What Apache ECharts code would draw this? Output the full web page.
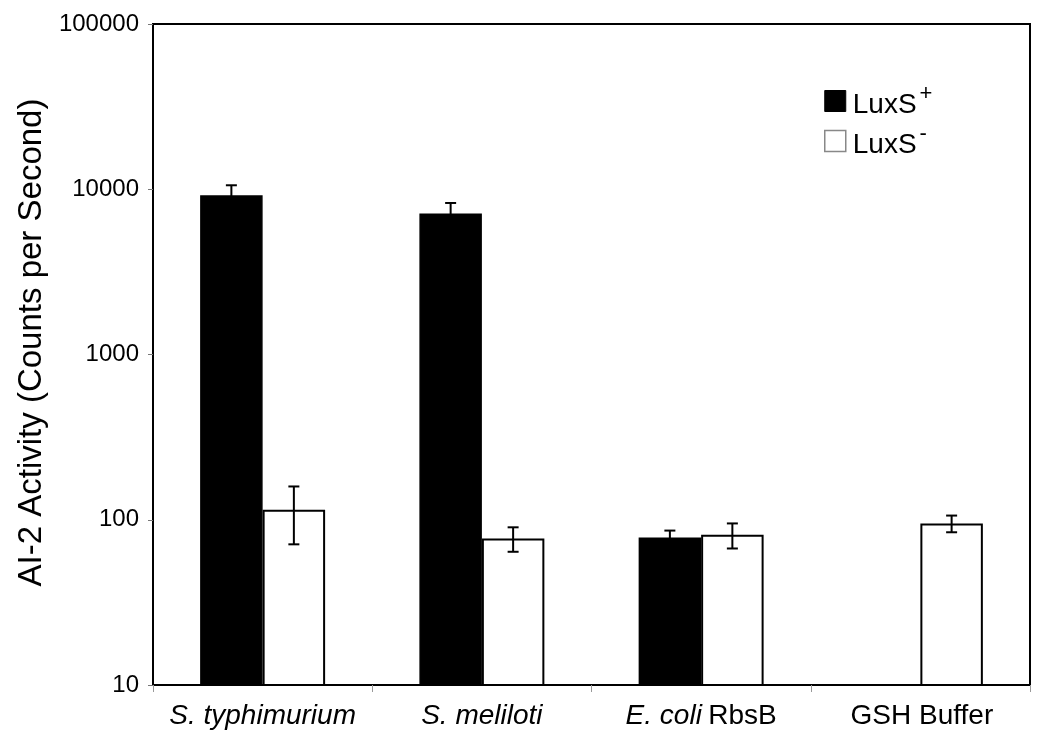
<!DOCTYPE html>
<html>
<head>
<meta charset="utf-8">
<script src="https://cdn.jsdelivr.net/npm/echarts@6/dist/echarts.min.js"></script>
<style>
  html, body { margin: 0; padding: 0; background: #fff; }
  #chart { width: 1050px; height: 741px; }
</style>
</head>
<body>
<div id="chart"></div>
<script>
// categories and values
var categories = ["S. typhimurium", "S. meliloti", "E. coli RbsB", "GSH Buffer"];
var luxPlus = [9200, 7130, 78, null];
var luxPlusErr = [1370, 1130, 8, null];
var luxMinus = [115, 77, 81, 95];
var luxMinusErr = [44, 13, 14, 11];
var yTicks = [10, 100, 1000, 10000, 100000];

var gapPct = 43; // barCategoryGap in %

function errData(vals, errs) {
  var out = [];
  vals.forEach(function(v, i) {
    if (v == null) return;
    out.push([i, v - errs[i], v + errs[i]]);
  });
  return out;
}

function errorRender(side) {
  return function(params, api) {
    var xi = api.value(0), lo = api.value(1), hi = api.value(2);
    var band = api.coord([1, 100])[0] - api.coord([0, 100])[0];
    var bw = band * (1 - gapPct / 100) / 2;
    var cx = api.coord([xi, hi])[0] + side * bw / 2;
    var yHi = api.coord([xi, hi])[1];
    var yLo = api.coord([xi, lo])[1];
    var cap = 5.5;
    var st = { stroke: "#000", lineWidth: 2 };
    return {
      type: "group",
      children: [
        { type: "line", shape: { x1: cx, y1: yHi, x2: cx, y2: yLo }, style: st },
        { type: "line", shape: { x1: cx - cap, y1: yHi, x2: cx + cap, y2: yHi }, style: st },
        { type: "line", shape: { x1: cx - cap, y1: yLo, x2: cx + cap, y2: yLo }, style: st }
      ]
    };
  };
}

// category labels, italic species part
function catLabel(v) {
  if (v === "E. coli RbsB") return "{i|E. coli} {n|RbsB}";
  if (v === "GSH Buffer") return "{n|GSH Buffer}";
  return "{i|" + v + "}";
}

var myChart = echarts.init(document.getElementById("chart"));
myChart.setOption({
  animation: false,
  backgroundColor: "#fff",
  textStyle: { fontFamily: "Liberation Sans, Arial, sans-serif", color: "#000" },
  grid: {
    left: 153,
    right: 20,
    top: 24,
    bottom: 56,
    show: true,
    borderColor: "#000",
    borderWidth: 2
  },
  legend: {
    orient: "vertical",
    left: 819,
    top: 78,
    itemWidth: 21,
    itemHeight: 21,
    itemGap: 4,
    icon: "rect",
    data: [
      { name: "LuxS+", itemStyle: { color: "#000", borderColor: "#000", borderWidth: 1 } },
      { name: "LuxS-", itemStyle: { color: "#fff", borderColor: "#888", borderWidth: 1.5 } }
    ],
    formatter: function(name) {
      return "{b|LuxS}{s|" + (name === "LuxS+" ? "+" : "-") + "}";
    },
    textStyle: {
      rich: {
        b: { fontSize: 28, color: "#000", lineHeight: 36, verticalAlign: "bottom", padding: [0, 0, 0, 2] },
        s: { fontSize: 22, color: "#000", verticalAlign: "top", lineHeight: 22, padding: [0, 0, 0, 3] }
      }
    }
  },
  xAxis: {
    type: "category",
    data: categories,
    axisLine: { lineStyle: { color: "#000", width: 2 } },
    axisTick: { show: true, length: 7, lineStyle: { color: "#999", width: 1 } },
    axisLabel: {
      margin: 17,
      formatter: catLabel,
      rich: {
        i: { fontSize: 28, fontStyle: "italic", color: "#000" },
        n: { fontSize: 28, color: "#000", padding: [0, 0, 0, 3] }
      }
    }
  },
  yAxis: {
    type: "log",
    logBase: 10,
    min: yTicks[0],
    max: yTicks[yTicks.length - 1],
    name: "AI-2 Activity (Counts per Second)",
    nameLocation: "middle",
    nameGap: 95,
    nameTextStyle: { fontSize: 33, color: "#000", padding: [0, 0, 0, 24] },
    axisLine: { show: true, lineStyle: { color: "#000", width: 2 } },
    axisTick: { show: true, length: 5, lineStyle: { color: "#777" } },
    minorTick: { show: false },
    splitLine: { show: false },
    axisLabel: {
      fontSize: 24,
      color: "#000",
      margin: 14,
      formatter: function(v) { return String(Math.round(v)); }
    }
  },
  series: [
    {
      name: "LuxS+",
      type: "bar",
      data: luxPlus,
      barGap: "0%",
      barCategoryGap: gapPct + "%",
      itemStyle: { color: "#000", borderColor: "#000", borderWidth: 1.5 }
    },
    {
      name: "LuxS-",
      type: "bar",
      data: luxMinus,
      barGap: "0%",
      barCategoryGap: gapPct + "%",
      itemStyle: { color: "#fff", borderColor: "#000", borderWidth: 2 }
    },
    {
      type: "custom",
      renderItem: errorRender(-1),
      data: errData(luxPlus, luxPlusErr),
      encode: { x: 0, y: [1, 2] },
      z: 10,
      silent: true
    },
    {
      type: "custom",
      renderItem: errorRender(1),
      data: errData(luxMinus, luxMinusErr),
      encode: { x: 0, y: [1, 2] },
      z: 10,
      silent: true
    }
  ]
});
</script>
</body>
</html>
